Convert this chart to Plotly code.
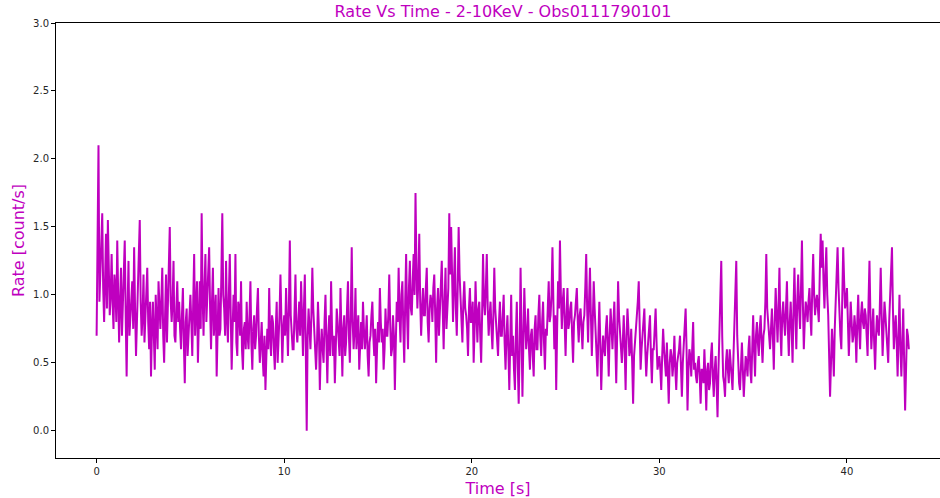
import plotly.graph_objects as go

# Light-curve values (count/s), read at bin starts t = 0.0, 0.1, 0.2, ... s
rate_on_00_10 = [
    0.70, 2.10, 1.15, 1.60, 0.80, 1.45, 1.55, 0.85, 1.30, 0.75,
    1.05, 1.40, 0.65, 1.20, 0.90, 1.40, 0.40, 1.25, 0.85, 1.10,
    1.35, 0.55, 1.00, 1.55, 0.70, 1.15, 0.85, 1.20, 0.60, 0.40,
    0.95, 0.45, 0.85, 1.10, 0.75, 1.20, 0.50, 1.15, 0.90, 1.50,
    0.80, 1.25, 0.65, 1.10, 0.95, 0.60, 1.05, 0.35, 0.90, 0.75,
    1.00, 0.55, 1.30, 0.85, 0.50, 1.10, 1.60, 0.70, 1.30, 0.95,
    1.35, 0.60, 1.20, 0.85, 0.40, 1.05, 0.75, 1.60, 0.90, 1.25,
    0.65, 1.30, 0.45, 1.00, 1.30, 0.55, 0.90, 1.10, 0.45, 0.80,
    0.95, 0.60, 1.10, 0.45, 0.85, 0.70, 1.05, 0.50, 0.80, 0.40,
    0.30, 0.75, 1.05, 0.55, 0.80, 0.45, 0.95, 0.65, 1.15, 0.50,
]
rate_on_10_20 = [
    0.85, 1.05, 0.55, 1.40, 0.75, 0.60, 1.15, 0.65, 0.95, 1.10,
    0.55, 1.15, 0.00, 0.90, 0.60, 1.20, 0.70, 0.45, 0.95, 0.30,
    0.75, 0.50, 1.00, 0.35, 0.85, 1.10, 0.55, 0.35, 0.90, 0.70,
    1.05, 0.40, 0.85, 0.65, 1.10, 0.50, 1.35, 0.60, 1.05, 0.75,
    0.45, 0.80, 0.95, 0.60, 0.85, 0.40, 0.70, 0.95, 0.55, 0.35,
    0.80, 1.05, 0.65, 0.45, 0.90, 0.70, 1.15, 0.55, 0.85, 0.30,
    0.95, 1.20, 0.65, 1.10, 0.50, 1.30, 0.60, 1.25, 0.85, 1.30,
    1.75, 0.90, 1.45, 0.70, 1.05, 0.85, 1.20, 0.65, 1.00, 0.80,
    1.15, 0.50, 1.05, 0.85, 1.25, 0.60, 1.20, 0.95, 1.60, 1.50,
    0.80, 1.35, 0.70, 1.50, 1.00, 0.65, 1.10, 0.85, 0.55, 1.05,
]
rate_on_20_30 = [
    0.80, 0.50, 1.10, 0.65, 0.95, 0.50, 1.30, 0.85, 1.30, 0.70,
    0.95, 0.60, 1.20, 0.75, 0.55, 0.95, 0.70, 1.00, 0.45, 0.85,
    0.30, 1.00, 0.70, 0.30, 0.95, 0.20, 1.20, 0.25, 1.05, 0.60,
    0.90, 0.45, 0.75, 0.40, 0.85, 0.60, 1.00, 0.55, 0.95, 0.45,
    0.70, 1.10, 0.85, 1.35, 0.60, 0.30, 1.10, 1.40, 0.75, 1.05,
    0.55, 1.05, 0.80, 0.95, 0.50, 0.85, 1.05, 0.65, 0.90, 0.60,
    0.85, 1.30, 0.65, 1.20, 0.55, 1.10, 0.75, 0.40, 0.95, 0.30,
    0.70, 0.55, 0.85, 0.40, 0.90, 0.60, 0.95, 0.35, 1.10, 0.70,
    0.50, 0.85, 0.30, 0.90, 0.55, 0.75, 0.20, 0.65, 0.80, 1.10,
    0.45, 0.70, 0.90, 0.40, 0.65, 0.85, 0.35, 0.60, 0.90, 0.45,
]
rate_on_30_40 = [
    0.55, 0.30, 0.75, 0.50, 0.65, 0.20, 0.60, 0.40, 0.70, 0.30,
    0.55, 0.70, 0.25, 0.65, 0.90, 0.15, 0.60, 0.40, 0.80, 0.50,
    0.35, 0.55, 0.20, 0.45, 0.60, 0.15, 0.50, 0.35, 0.65, 0.25,
    0.55, 0.10, 0.80, 1.25, 0.40, 0.25, 0.60, 0.35, 0.50, 0.30,
    0.75, 1.25, 0.45, 0.30, 0.65, 0.25, 0.55, 0.40, 0.70, 0.35,
    0.85, 0.40, 0.80, 0.55, 0.85, 0.50, 0.75, 1.30, 0.80, 0.60,
    0.90, 0.45, 1.05, 0.65, 1.20, 0.55, 0.95, 0.70, 1.10, 0.55,
    0.95, 0.50, 1.20, 0.60, 1.15, 0.75, 1.40, 0.60, 0.95, 0.80,
    1.05, 0.70, 1.30, 0.85, 1.00, 0.80, 1.45, 1.40, 0.90, 1.35,
    0.85, 0.25, 0.75, 0.40, 1.00, 1.35, 0.80, 0.60, 1.35, 0.90,
]
rate_on_40_end = [
    1.05, 0.55, 0.95, 0.65, 0.85, 0.50, 1.00, 0.60, 0.95, 0.75,
    0.85, 0.55, 1.25, 0.60, 0.90, 0.45, 0.85, 0.70, 1.20, 0.55,
    0.95, 0.75, 0.50, 1.00, 1.35, 0.60, 0.85, 0.40, 1.00, 0.40,
    0.90, 0.15, 0.75, 0.60,
]

# Values read at the half-bins t = 0.05, 0.15, 0.25, ... s
rate_half_00_10 = [
    1.40, 0.95, 1.25, 1.05, 1.10, 0.90, 1.20, 1.00, 0.95, 1.15,
    0.80, 1.00, 0.95, 0.70, 1.15, 0.85, 0.90, 0.70, 1.00, 0.75,
    0.90, 0.80, 1.20, 0.95, 0.85, 0.65, 1.05, 0.80, 0.95, 0.75,
    0.70, 1.00, 0.60, 0.85, 0.95, 0.70, 0.85, 0.65, 1.10, 0.95,
    0.95, 0.70, 0.90, 0.80, 0.75, 0.85, 0.65, 0.80, 0.55, 0.95,
    0.80, 0.95, 0.70, 1.10, 0.85, 0.75, 1.00, 1.05, 0.80, 1.15,
    0.90, 0.95, 0.70, 1.00, 0.85, 0.70, 1.15, 1.00, 0.70, 0.85,
    1.00, 0.85, 0.75, 0.80, 0.65, 0.95, 0.70, 0.60, 0.75, 0.60,
    0.70, 0.85, 0.65, 0.75, 0.60, 0.90, 0.70, 0.65, 0.55, 0.70,
    0.55, 0.60, 0.70, 0.85, 0.60, 0.75, 0.50, 0.85, 0.70, 0.75,
]
rate_half_10_20 = [
    0.70, 0.80, 0.90, 0.85, 0.60, 0.90, 0.75, 0.80, 0.70, 0.85,
    0.90, 0.60, 0.70, 0.75, 0.85, 0.90, 0.55, 0.65, 0.75, 0.60,
    0.60, 0.80, 0.65, 0.70, 0.55, 0.75, 0.70, 0.60, 0.80, 0.55,
    0.65, 0.75, 0.55, 0.90, 0.70, 0.85, 0.80, 0.75, 0.60, 0.85,
    0.65, 0.60, 0.75, 0.70, 0.55, 0.65, 0.85, 0.70, 0.75, 0.60,
    0.65, 0.80, 0.75, 0.60, 0.70, 0.85, 0.80, 0.60, 0.70, 0.65,
    0.80, 0.85, 1.00, 0.75, 0.95, 0.85, 1.05, 0.90, 1.10, 1.00,
    1.20, 1.10, 0.95, 0.90, 0.85, 1.05, 0.80, 0.90, 0.95, 1.05,
    0.85, 0.90, 0.70, 1.10, 0.90, 0.95, 0.75, 1.05, 1.15, 1.00,
    1.10, 0.90, 1.05, 1.15, 0.80, 0.95, 0.90, 0.75, 0.90, 0.80,
]
rate_half_20_30 = [
    0.95, 0.75, 0.85, 0.90, 0.70, 0.85, 0.95, 1.05, 0.90, 0.85,
    0.75, 0.85, 0.90, 0.65, 0.80, 0.70, 0.85, 0.65, 0.70, 0.60,
    0.65, 0.55, 0.45, 0.70, 0.50, 0.60, 0.75, 0.65, 0.80, 0.70,
    0.60, 0.70, 0.55, 0.75, 0.60, 0.85, 0.70, 0.80, 0.65, 0.75,
    0.90, 0.80, 1.00, 0.95, 0.85, 0.75, 0.90, 1.00, 0.95, 0.80,
    0.85, 0.75, 0.90, 0.70, 0.80, 0.95, 0.80, 0.85, 0.75, 0.80,
    1.05, 0.90, 0.95, 0.85, 0.80, 0.90, 0.60, 0.70, 0.65, 0.55,
    0.60, 0.75, 0.65, 0.70, 0.75, 0.80, 0.65, 0.70, 0.85, 0.55,
    0.65, 0.60, 0.70, 0.75, 0.60, 0.50, 0.55, 0.70, 0.95, 0.75,
    0.60, 0.80, 0.60, 0.55, 0.70, 0.55, 0.60, 0.75, 0.65, 0.50,
]
rate_half_30_40 = [
    0.45, 0.55, 0.60, 0.40, 0.45, 0.50, 0.55, 0.50, 0.45, 0.50,
    0.60, 0.45, 0.50, 0.75, 0.60, 0.45, 0.55, 0.60, 0.45, 0.40,
    0.50, 0.40, 0.45, 0.35, 0.40, 0.45, 0.30, 0.55, 0.40, 0.45,
    0.35, 0.45, 0.95, 0.70, 0.35, 0.50, 0.45, 0.60, 0.40, 0.55,
    0.90, 0.70, 0.35, 0.50, 0.45, 0.40, 0.50, 0.60, 0.45, 0.60,
    0.60, 0.70, 0.65, 0.75, 0.65, 0.70, 0.95, 0.90, 0.70, 0.75,
    0.70, 0.80, 0.85, 0.90, 0.75, 0.85, 0.80, 0.90, 0.75, 0.80,
    0.75, 0.90, 0.85, 0.95, 0.90, 1.05, 0.95, 0.80, 0.90, 0.95,
    0.85, 1.05, 1.00, 0.95, 0.90, 1.15, 1.20, 1.10, 1.15, 1.00,
    0.55, 0.50, 0.60, 0.75, 1.15, 1.05, 0.70, 1.00, 1.10, 0.95,
]
rate_half_40_end = [
    0.80, 0.75, 0.80, 0.70, 0.75, 0.80, 0.75, 0.85, 0.80, 0.90,
    0.70, 0.95, 0.85, 0.75, 0.65, 0.70, 0.75, 0.90, 0.85, 0.75,
    0.85, 0.60, 0.80, 1.15, 0.90, 0.75, 0.65, 0.70, 0.60, 0.65,
    0.50, 0.45, 0.70,
]

BIN_S = 0.05
rate_on = rate_on_00_10 + rate_on_10_20 + rate_on_20_30 + rate_on_30_40 + rate_on_40_end
rate_half = (rate_half_00_10 + rate_half_10_20 + rate_half_20_30
             + rate_half_30_40 + rate_half_40_end)
rate = []
for i, v in enumerate(rate_on):
    rate.append(v)
    if i < len(rate_half):
        rate.append(rate_half[i])
time = [round(i * BIN_S, 2) for i in range(len(rate))]

x_ticks = [0, 10, 20, 30, 40]
y_ticks = [0.0, 0.5, 1.0, 1.5, 2.0, 2.5, 3.0]

MAG = "#bf00bf"
FONT = "DejaVu Sans"

fig = go.Figure()
fig.add_trace(go.Scatter(
    x=time, y=rate, mode="lines",
    line=dict(color=MAG, width=2),
    hoverinfo="skip", showlegend=False,
))

fig.update_layout(
    width=940, height=498,
    margin=dict(l=56, r=0, t=23, b=40),
    paper_bgcolor="white", plot_bgcolor="white",
    font=dict(family=FONT, size=10, color="#262626"),
    title=dict(
        text="Rate Vs Time - 2-10KeV - Obs0111790101",
        font=dict(family=FONT, size=16, color=MAG),
        xref="container", x=503 / 940, xanchor="center",
        yref="container", y=1 - 11 / 498, yanchor="middle",
    ),
)
fig.update_xaxes(
    range=[-2.165, 44.96],
    tickvals=x_ticks, ticktext=[str(v) for v in x_ticks],
    ticks="outside", ticklen=4, tickcolor="black", tickwidth=1,
    showline=True, linecolor="black", linewidth=1, mirror=True,
    showgrid=False, zeroline=False,
    tickfont=dict(family=FONT, size=10, color="#262626"),
    title=dict(text="Time [s]", font=dict(family=FONT, size=16, color=MAG), standoff=6),
)
fig.update_yaxes(
    range=[-0.2, 3.0],
    tickvals=y_ticks, ticktext=[f"{v:.1f}" for v in y_ticks],
    ticks="outside", ticklen=4, tickcolor="black", tickwidth=1,
    showline=True, linecolor="black", linewidth=1, mirror=False,
    showgrid=False, zeroline=False,
    tickfont=dict(family=FONT, size=10, color="#262626"),
    title=dict(text="Rate [count/s]", font=dict(family=FONT, size=16, color=MAG), standoff=4),
)

fig.write_html("out.html")
